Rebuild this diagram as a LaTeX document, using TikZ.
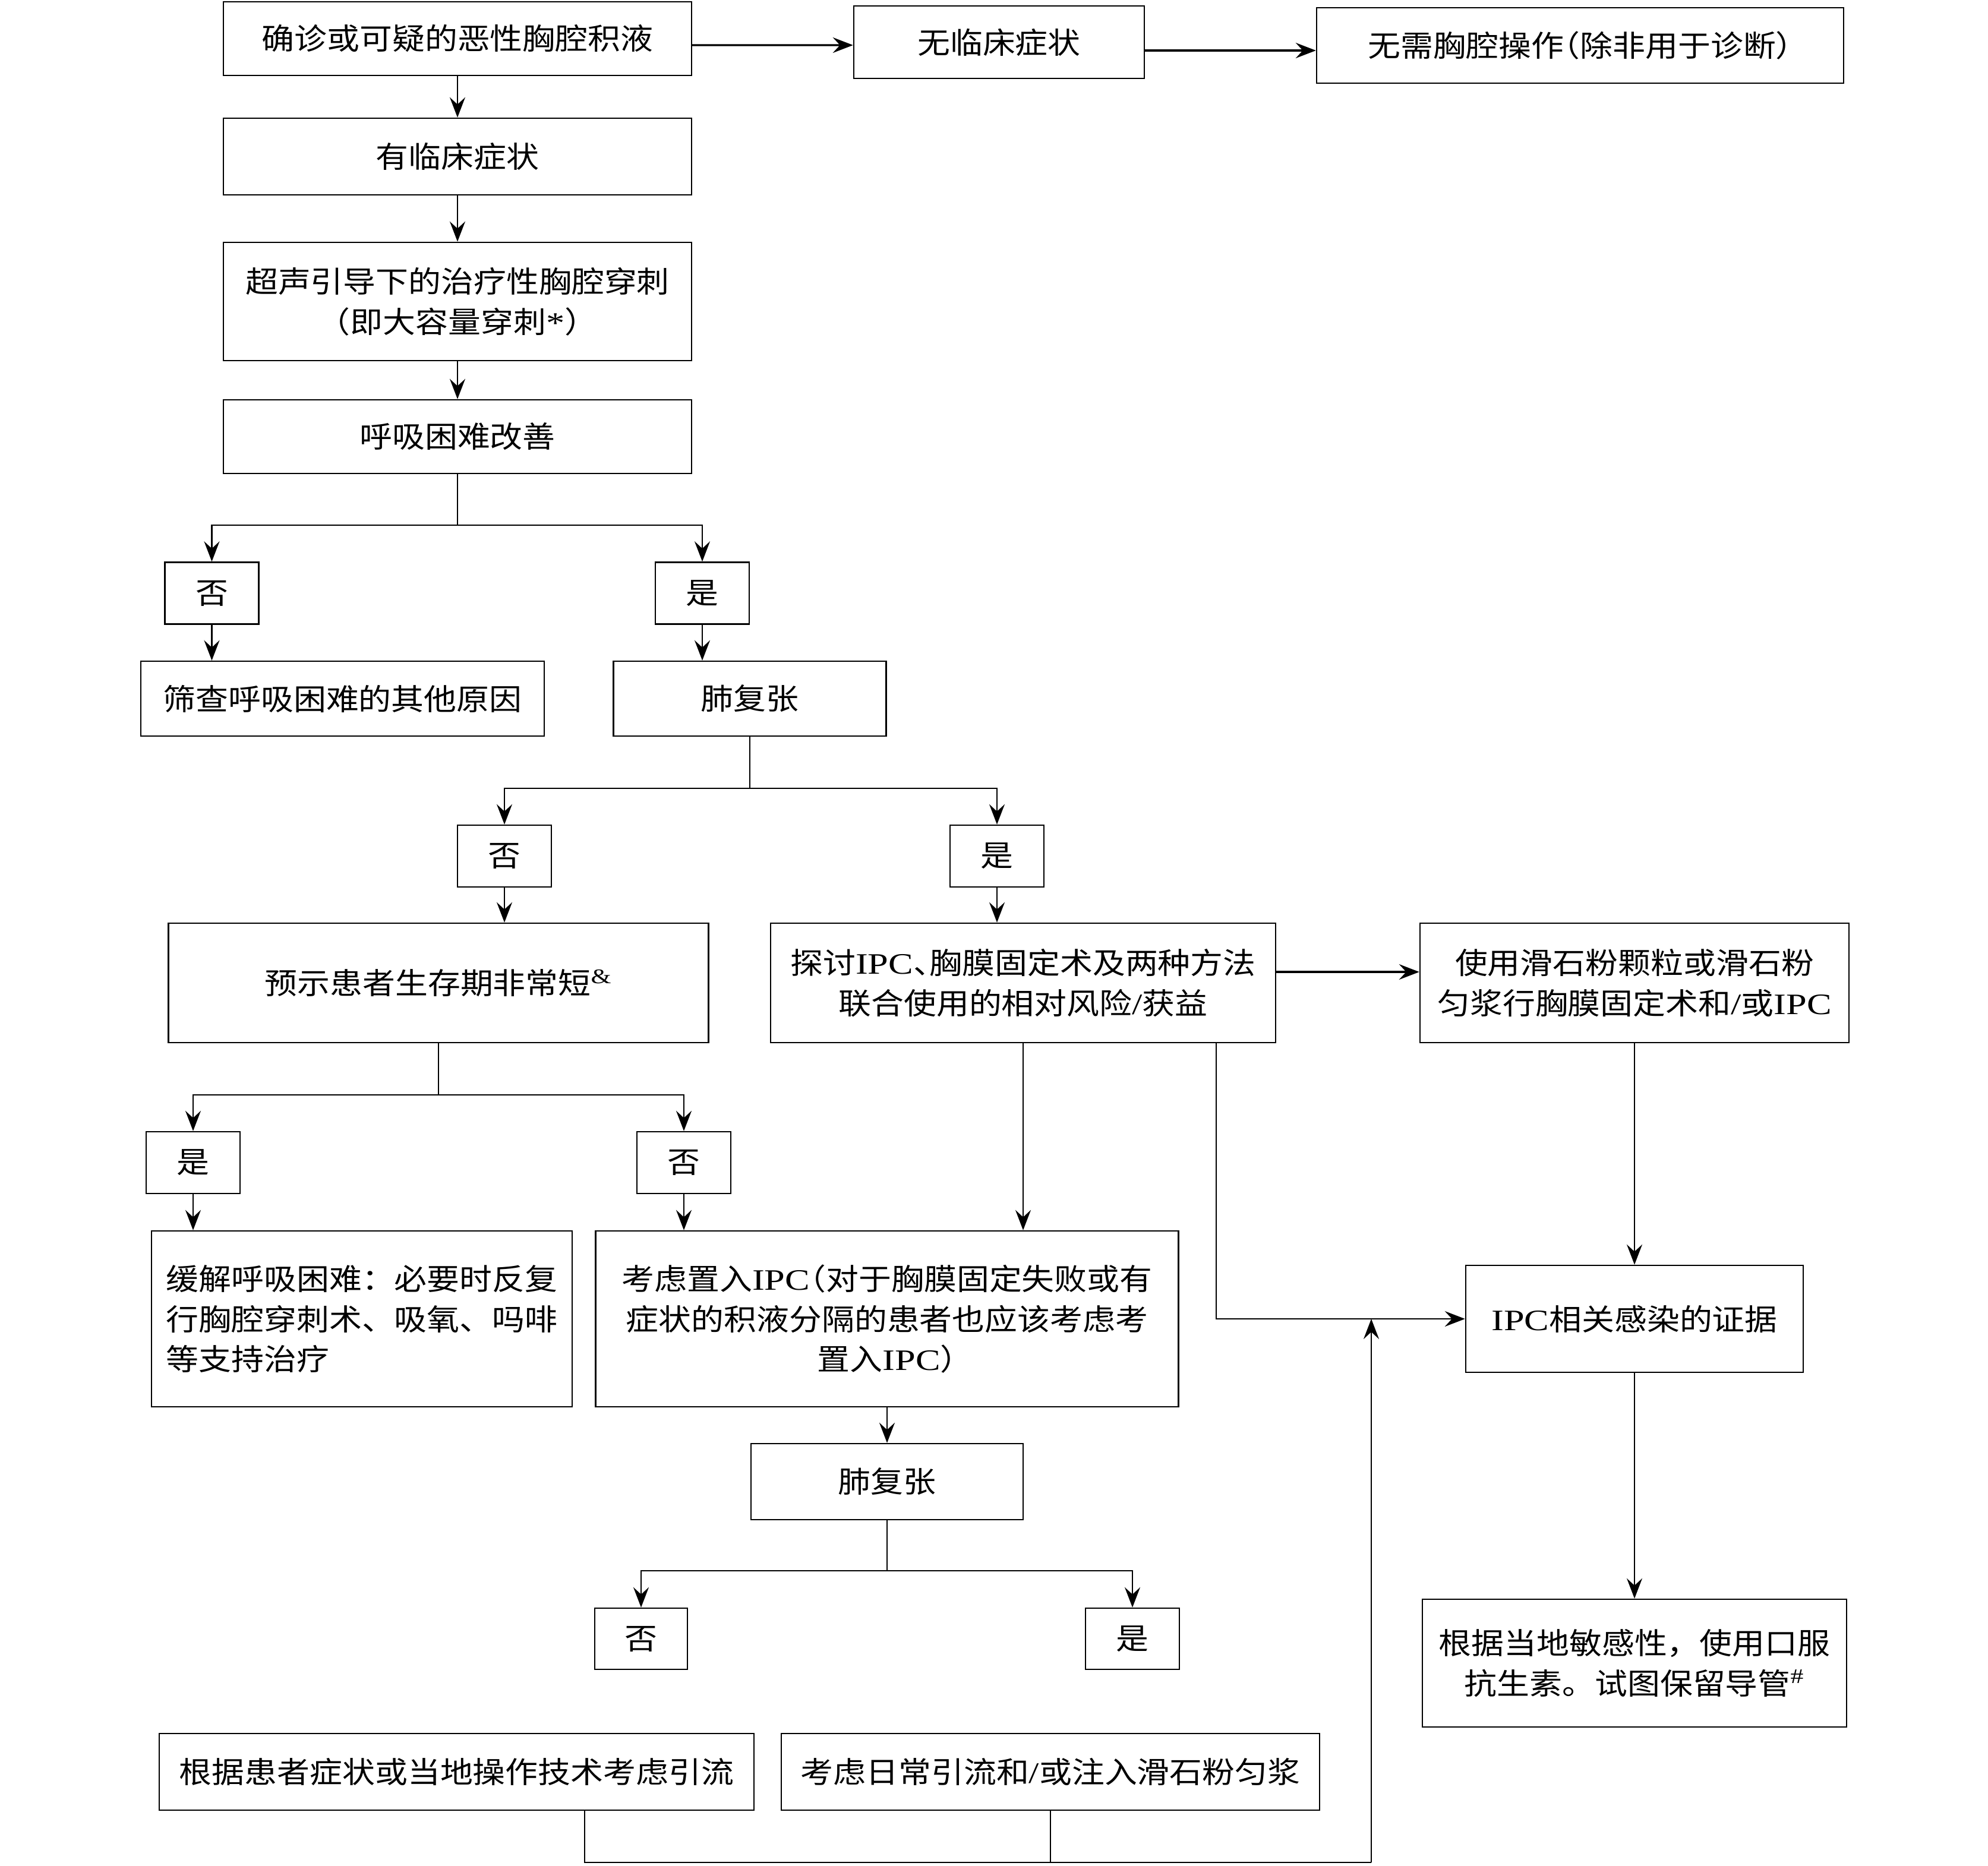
\documentclass[tikz,border=0pt]{standalone}
\usepackage{fontspec}
\setmainfont[FakeStretch=1.1]{Noto Sans CJK SC}
\newfontfamily\latn[FakeStretch=1.25]{Liberation Serif}
\newfontfamily\cnhalf[FakeStretch=1.1,RawFeature=+halt]{Noto Sans CJK SC}
\usepackage{tikz}
\usetikzlibrary{calc,arrows.meta}
\tikzset{
  box/.style={draw,line width=0.7pt,align=center,inner sep=0pt,font=\fontsize{14.2pt}{19.3pt}\selectfont},
  boxsize/.style 2 args={minimum width=#1cm,minimum height=#2cm},
  link/.style={line width=0.7pt},
  arr/.style={line width=0.7pt,-{Stealth[length=3.4mm,width=2.6mm,inset=1.2mm]}},
  harr/.style={arr,line width=0.95pt}
}
\newcommand{\ipc}{{\latn IPC}}
\newcommand{\hp}[1]{{\cnhalf #1}}

\begin{document}
\begin{tikzpicture}
  % drawing parameters
  \pgfmathsetmacro{\cx}{7.70} % x of main column
  \pgfmathsetmacro{\bw}{7.88} % width of main column boxes
  \pgfmathsetmacro{\yw}{1.58} % width of yes/no boxes
  \pgfmathsetmacro{\yh}{1.04} % height of yes/no boxes

  \useasboundingbox (0,0) rectangle (33.46,-31.40);

  % top row
  \node[box,boxsize={\bw}{1.24}] (confirm) at (\cx,-0.65) {确诊或可疑的恶性胸腔积液};
  \node[box,boxsize={4.89}{1.22}] (asym) at (16.815,-0.71) {无临床症状};
  \node[box,boxsize={8.87}{1.27}] (noop) at (26.595,-0.765) {无需胸腔操作\hp{（}除非用于诊断\hp{）}};
  \draw[harr] ([yshift=-0.11cm]confirm.east) -- ([yshift=-0.05cm]asym.west);
  \draw[harr] ([yshift=-0.14cm]asym.east) -- ([yshift=-0.085cm]noop.west);

  % main column
  \node[box,boxsize={\bw}{1.29}] (sympt) at (\cx,-2.635) {有临床症状};
  \node[box,boxsize={\bw}{1.99}] (guided) at (\cx,-5.075) {超声引导下的治疗性胸腔穿刺\\（即大容量穿刺{\latn *}）};
  \node[box,boxsize={\bw}{1.24}] (dyspnoea) at (\cx,-7.35) {呼吸困难改善};
  \draw[arr] (confirm) -- (sympt);
  \draw[arr] (sympt) -- (guided);
  \draw[arr] (guided) -- (dyspnoea);

  % first split
  \coordinate (split1) at (\cx,-8.84);
  \node[box,boxsize={\yw}{\yh}] (no1) at (3.565,-9.985) {否};
  \node[box,boxsize={\yw}{\yh}] (yes1) at (11.82,-9.985) {是};
  \draw[link] (dyspnoea) -- (split1);
  \draw[arr] (split1) -| (no1);
  \draw[arr] (split1) -| (yes1);
  \node[box,boxsize={6.79}{1.26}] (causes) at (5.765,-11.76) {筛查呼吸困难的其他原因};
  \node[box,boxsize={4.59}{1.26}] (reexp1) at (12.62,-11.76) {肺复张};
  \draw[arr] (no1) -- (no1 |- causes.north);
  \draw[arr] (yes1) -- (yes1 |- reexp1.north);

  % second split
  \coordinate (split2) at (12.62,-13.27);
  \node[box,boxsize={\yw}{\yh}] (no2) at (8.49,-14.41) {否};
  \node[box,boxsize={\yw}{\yh}] (yes2) at (16.78,-14.41) {是};
  \draw[link] (reexp1) -- (split2);
  \draw[arr] (split2) -| (no2);
  \draw[arr] (split2) -| (yes2);
  \node[box,boxsize={9.09}{2.01}] (short) at (7.38,-16.545) {预示患者生存期非常短\textsuperscript{\latn\&}};
  \node[box,boxsize={8.50}{2.01}] (discuss) at (17.22,-16.545) {探讨\ipc\hp{、}胸膜固定术及两种方法\\联合使用的相对风险{\latn /}获益};
  \node[box,boxsize={7.22}{2.01}] (talc) at (27.51,-16.545) {使用滑石粉颗粒或滑石粉\\匀浆行胸膜固定术和{\latn /}或\ipc};
  \draw[arr] (no2) -- (no2 |- short.north);
  \draw[arr] (yes2) -- (yes2 |- discuss.north);
  \draw[harr] ([yshift=0.185cm]discuss.east) -- ([yshift=0.185cm]talc.west);

  % third split
  \coordinate (split3) at (7.38,-18.43);
  \node[box,boxsize={\yw}{\yh}] (yes3) at (3.25,-19.57) {是};
  \node[box,boxsize={\yw}{\yh}] (no3) at (11.51,-19.57) {否};
  \draw[link] (short) -- (split3);
  \draw[arr] (split3) -| (yes3);
  \draw[arr] (split3) -| (no3);
  \node[box,boxsize={7.08}{2.96},align=left] (relief) at (6.09,-22.20) {缓解呼吸困难：必要时反复\\行胸腔穿刺术、吸氧、吗啡\\等支持治疗};
  \node[box,boxsize={9.81}{2.96}] (ipcbox) at (14.93,-22.20) {考虑置入\ipc\hp{（}对于胸膜固定失败或有\\症状的积液分隔的患者也应该考虑考\\置入\ipc\hp{）}};
  \node[box,boxsize={5.68}{1.80}] (infect) at (27.51,-22.20) {\ipc 相关感染的证据};
  \draw[arr] (yes3) -- (yes3 |- relief.north);
  \draw[arr] (no3) -- (no3 |- ipcbox.north);
  \draw[arr] (discuss) -- (discuss |- ipcbox.north);
  \draw[arr] ([xshift=-1.01cm]discuss.south east) |- (infect);
  \draw[arr] (talc) -- (infect);

  % fourth split
  \node[box,boxsize={4.58}{1.28}] (reexp2) at (14.93,-24.94) {肺复张};
  \coordinate (split4) at (14.93,-26.44);
  \node[box,boxsize={1.56}{1.03}] (no4) at (10.79,-27.585) {否};
  \node[box,boxsize={\yw}{1.03}] (yes4) at (19.06,-27.585) {是};
  \draw[arr] (ipcbox) -- (reexp2);
  \draw[link] (reexp2) -- (split4);
  \draw[arr] (split4) -| (no4);
  \draw[arr] (split4) -| (yes4);

  % right column end
  \node[box,boxsize={7.14}{2.15}] (abx) at (27.51,-27.995) {根据当地敏感性，使用口服\\抗生素。试图保留导管\textsuperscript{\latn\#}};
  \draw[arr] (infect) -- (abx);

  % bottom row and way back up
  \node[box,boxsize={10.01}{1.29}] (drain) at (7.685,-29.825) {根据患者症状或当地操作技术考虑引流};
  \node[box,boxsize={9.06}{1.29}] (daily) at (17.68,-29.825) {考虑日常引流和{\latn /}或注入滑石粉匀浆};
  \coordinate (back) at (23.08,-31.35);
  \draw[link] ([xshift=2.155cm]drain.south) |- (back);
  \draw[link] (daily.south) -- (daily.south |- back);
  \draw[arr] (back) -- (back |- infect.west);
\end{tikzpicture}
\end{document}
